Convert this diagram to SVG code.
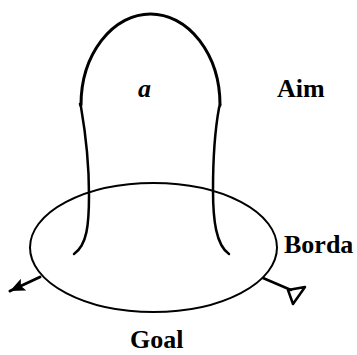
<svg xmlns="http://www.w3.org/2000/svg" width="357" height="355" viewBox="0 0 357 355">
<style>
.ln{fill:none;stroke:#000;stroke-linecap:round;stroke-linejoin:round}
.lb{font-family:"Liberation Serif","Times New Roman",serif;font-weight:bold;font-size:26px;fill:#000}
</style>
<defs>
<marker id="ah" markerWidth="15" markerHeight="13" refX="15" refY="6.5" orient="auto" markerUnits="userSpaceOnUse" viewBox="0 0 15 13">
<path d="M0,0 L15,6.5 L0,13 L3,6.5 Z" fill="#000"/>
</marker>
</defs>
<rect width="357" height="355" fill="#fff"/>
<g id="aim">
<path class="ln" stroke-width="3" d="M81,105 A69.5,91 0 0 1 220,105"/>
<path class="ln" stroke-width="2.5" d="M80,104 L81,107 C85,130 89,160 89,195 C89,225 87,245 74,254"/>
<path class="ln" stroke-width="2.5" d="M220,105 L219,108 C215,130 213,160 213,190 C213,220 216,245 229,254"/>
<text class="lb" x="138" y="97" font-style="italic">a</text>
<text class="lb" x="277" y="97">Aim</text>
</g>
<g id="goal">
<ellipse class="ln" stroke-width="2" cx="153.5" cy="247.5" rx="123.5" ry="64.5"/>
<text class="lb" x="284" y="253">Borda</text>
<text class="lb" x="130" y="348">Goal</text>
</g>
<g id="connectors">
<line class="ln" stroke-width="3" stroke-linecap="butt" x1="40" y1="277" x2="10" y2="291" marker-end="url(#ah)"/>
<line class="ln" stroke-width="2.5" x1="263" y1="278" x2="291" y2="290"/>
<polygon class="ln" stroke-width="2.5" points="288,290 305,287 293,304"/>
</g>
</svg>
